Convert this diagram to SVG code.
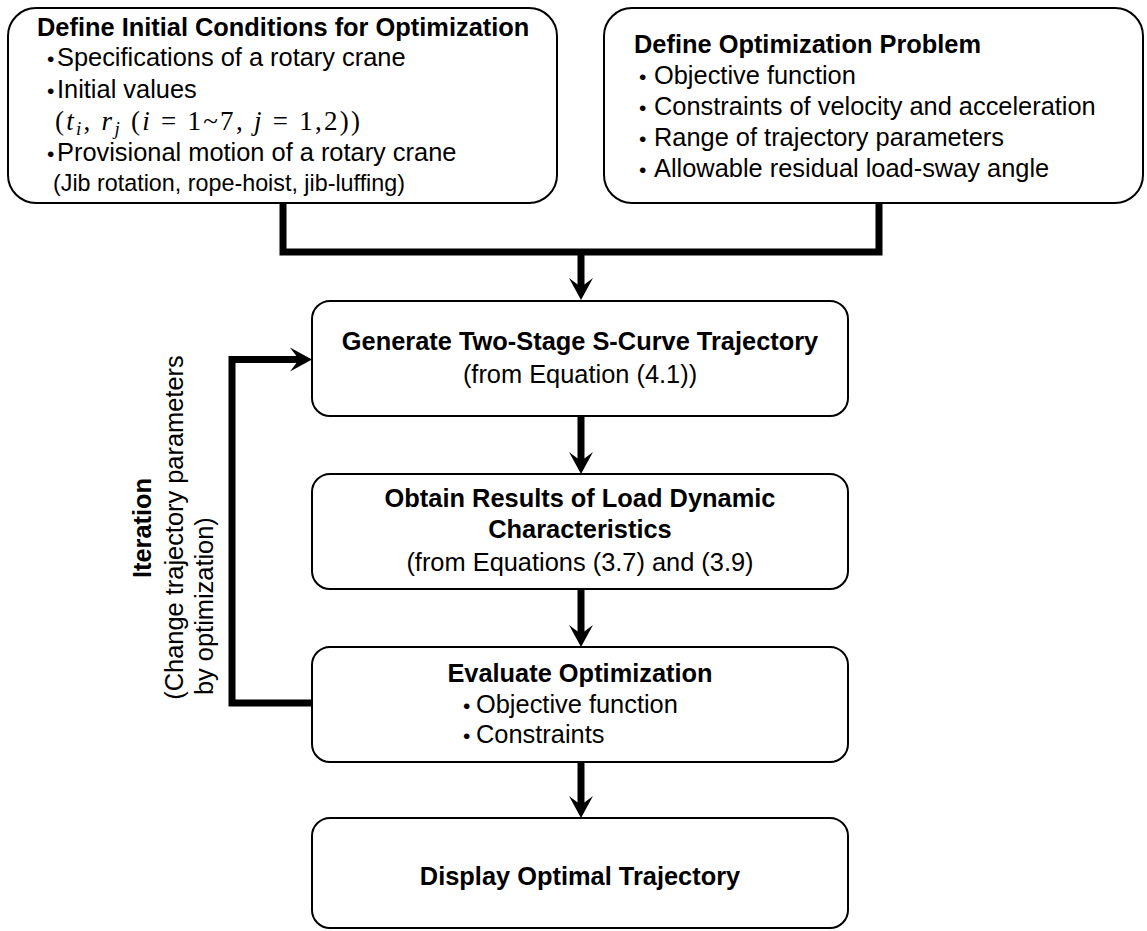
<svg xmlns="http://www.w3.org/2000/svg" width="1147" height="931" viewBox="0 0 1147 931">
<style>
  .box { fill: #ffffff; stroke: #000000; stroke-width: 2; }
  .t { font-family: "Liberation Sans", Arial, sans-serif; font-size: 25.4px; fill: #000000; }
  .b { font-weight: bold; }
  .c { text-anchor: middle; }
  .dot { font-family: "Liberation Sans", Arial, sans-serif; font-size: 21px; fill: #000000; }
  .math { font-family: "Liberation Serif", "Times New Roman", serif; font-size: 27px; fill: #000000; }
  .conn { fill: none; stroke: #000000; stroke-width: 7; stroke-linejoin: miter; }
</style>
<defs>
  <marker id="arrow" markerUnits="userSpaceOnUse" markerWidth="22" markerHeight="24" refX="10" refY="12" orient="auto" overflow="visible">
    <path d="M0,0 L22,12 L0,24 L9,12 Z" fill="#000000"/>
  </marker>
</defs>
<rect width="1147" height="931" fill="#ffffff"/>

<g id="connectors">
  <path class="conn" d="M283,203 V252 H879 V203"/>
  <path class="conn" d="M581,252 V288" marker-end="url(#arrow)"/>
  <path class="conn" d="M581,416 V462" marker-end="url(#arrow)"/>
  <path class="conn" d="M581,589 V635" marker-end="url(#arrow)"/>
  <path class="conn" d="M581,762 V806" marker-end="url(#arrow)"/>
  <path class="conn" d="M312,703 H232 V359.5 H300" marker-end="url(#arrow)"/>
</g>

<g id="node-initial-conditions">
  <rect class="box" x="8" y="8" width="549" height="195" rx="28" ry="28"/>
  <text class="t b" x="37" y="36">Define Initial Conditions for Optimization</text>
  <text class="dot" x="47" y="65.5">•</text>
  <text class="t" x="57" y="66">Specifications of a rotary crane</text>
  <text class="dot" x="47" y="97.5">•</text>
  <text class="t" x="57" y="98">Initial values</text>
  <text class="math" x="55" y="130" textLength="305" lengthAdjust="spacing">(<tspan font-style="italic">t</tspan><tspan font-style="italic" font-size="19" dy="5">i</tspan><tspan dy="-5">, </tspan><tspan font-style="italic">r</tspan><tspan font-style="italic" font-size="19" dy="5">j</tspan><tspan dy="-5"> (</tspan><tspan font-style="italic">i</tspan> = 1~7, <tspan font-style="italic">j</tspan> = 1,2))</text>
  <text class="dot" x="47" y="160.5">•</text>
  <text class="t" x="57" y="161">Provisional motion of a rotary crane</text>
  <text class="t" x="53" y="191" style="font-size:24.5px" textLength="352" lengthAdjust="spacingAndGlyphs">(Jib rotation, rope-hoist, jib-luffing)</text>
</g>

<g id="node-optimization-problem">
  <rect class="box" x="604" y="8" width="539" height="195" rx="28" ry="28"/>
  <text class="t b" x="634" y="53">Define Optimization Problem</text>
  <text class="dot" x="639" y="83.5">•</text>
  <text class="t" x="654" y="84">Objective function</text>
  <text class="dot" x="639" y="114.5">•</text>
  <text class="t" x="654" y="115">Constraints of velocity and acceleration</text>
  <text class="dot" x="639" y="145.5">•</text>
  <text class="t" x="654" y="146">Range of trajectory parameters</text>
  <text class="dot" x="639" y="176.5">•</text>
  <text class="t" x="654" y="177">Allowable residual load-sway angle</text>
</g>

<g id="node-generate">
  <rect class="box" x="312" y="301" width="536" height="115" rx="18" ry="18"/>
  <text class="t b c" x="580" y="350">Generate Two-Stage S-Curve Trajectory</text>
  <text class="t c" x="580" y="383">(from Equation (4.1))</text>
</g>

<g id="node-obtain">
  <rect class="box" x="312" y="474" width="536" height="115" rx="18" ry="18"/>
  <text class="t b c" x="580" y="507">Obtain Results of Load Dynamic</text>
  <text class="t b c" x="580" y="538">Characteristics</text>
  <text class="t c" x="580" y="571">(from Equations (3.7) and (3.9)</text>
</g>

<g id="node-evaluate">
  <rect class="box" x="312" y="647" width="536" height="115" rx="18" ry="18"/>
  <text class="t b c" x="580" y="682">Evaluate Optimization</text>
  <text class="dot" x="463" y="712.5">•</text>
  <text class="t" x="476" y="713">Objective function</text>
  <text class="dot" x="463" y="742.5">•</text>
  <text class="t" x="476" y="743">Constraints</text>
</g>

<g id="node-display">
  <rect class="box" x="312" y="818" width="536" height="110" rx="18" ry="18"/>
  <text class="t b c" x="580" y="885">Display Optimal Trajectory</text>
</g>

<g id="label-iteration">
  <text class="t b c" transform="translate(151,528) rotate(-90)">Iteration</text>
  <text class="t c" transform="translate(183,527.5) rotate(-90)">(Change trajectory parameters</text>
  <text class="t" transform="translate(213,695) rotate(-90)">by optimization)</text>
</g>
</svg>
